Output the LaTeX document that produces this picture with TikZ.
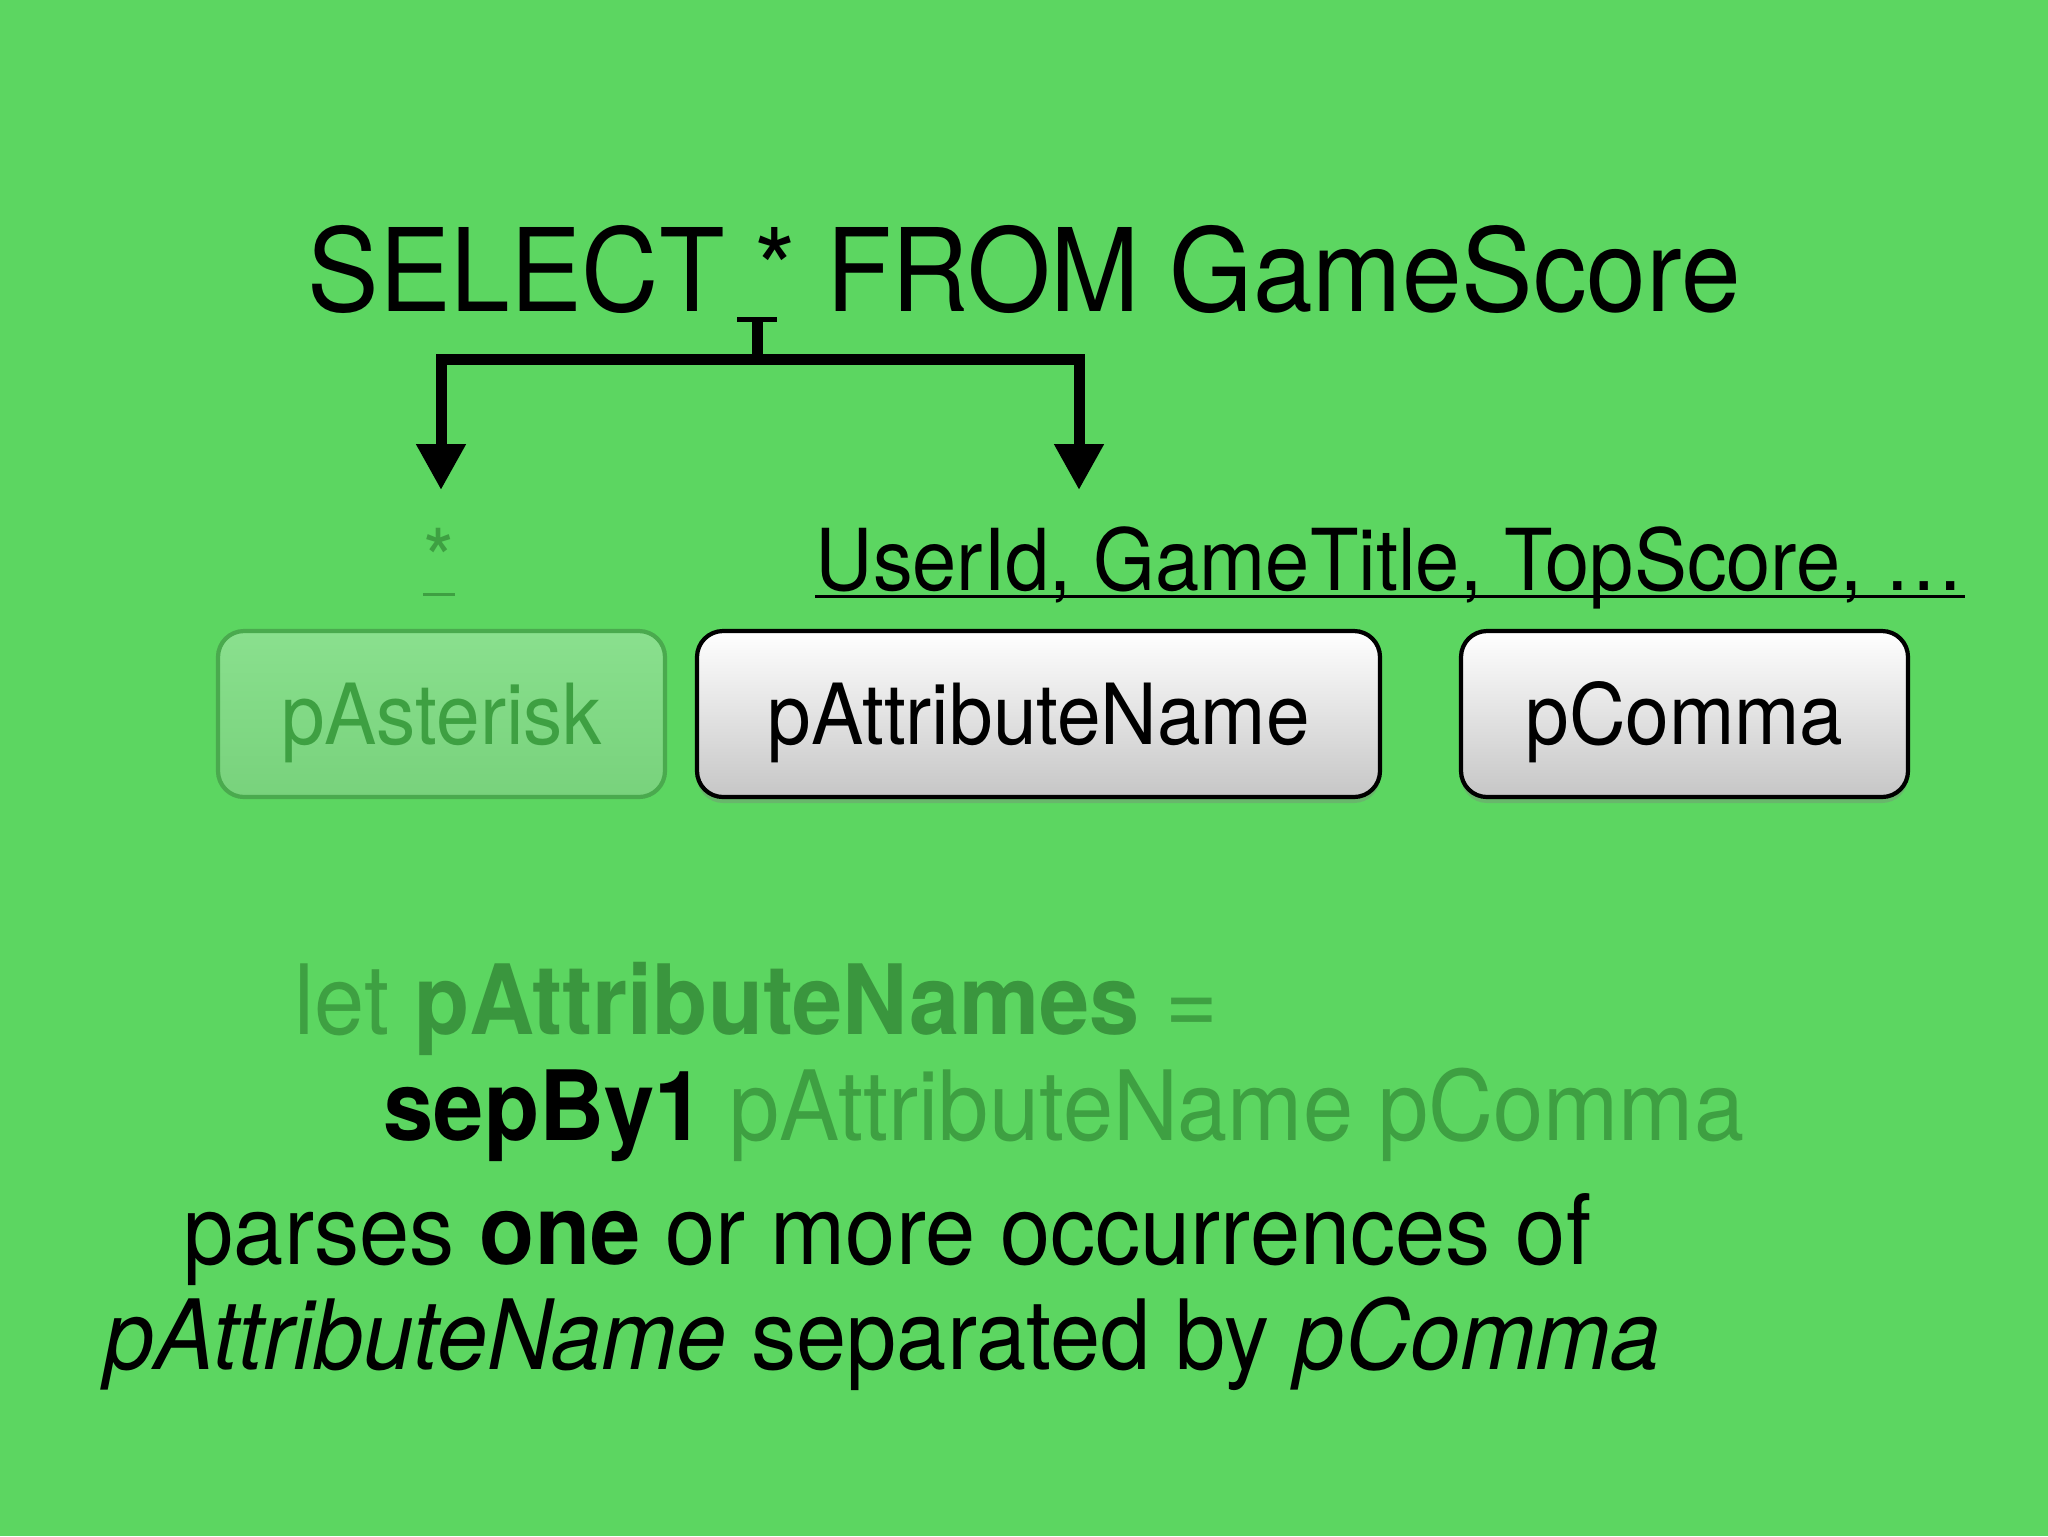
\documentclass[tikz,border=0pt]{standalone}
\usepackage{fontspec}
\setmainfont{TeX Gyre Heros}[FakeStretch=0.93]
\usetikzlibrary{arrows.meta,shadows}
\definecolor{slide}{RGB}{92,214,97}
\definecolor{faded}{RGB}{62,160,66}
\definecolor{fadedbold}{RGB}{58,150,62}
\definecolor{fadedtop}{RGB}{138,224,142}
\definecolor{fadedbot}{RGB}{120,210,124}
\definecolor{fadedrim}{RGB}{74,170,78}
\definecolor{boxgray}{RGB}{198,198,198}
\begin{document}
\begin{tikzpicture}[x=0.1mm,y=-0.1mm,
    txt/.style={inner sep=0pt,anchor=base west},
    fork/.style={line width=0.11cm,black},
    uline/.style={line width=0.03cm},
    parser/.style={draw=black,line width=1.2pt,rounded corners=0.26cm,
      minimum height=1.66cm,text height=0.6cm,text depth=0cm,
      top color=white,bottom color=boxgray,
      drop shadow={shadow xshift=0pt,shadow yshift=-0.06cm,opacity=0.35},
      font=\fontsize{24}{28}\selectfont},
    fadedbox/.style={draw=fadedrim,line width=1.2pt,rounded corners=0.26cm,
      minimum height=1.66cm,text height=0.6cm,text depth=0cm,
      top color=fadedtop,bottom color=fadedbot,
      text=faded,font=\fontsize{24}{28}\selectfont}]
  \fill[slide] (0,0) rectangle (2048,1536);
  \useasboundingbox (0,0) rectangle (2048,1536);

  % query and the two readings of the asterisk
  \node[txt,font=\fontsize{32.8}{36}\selectfont] (query) at (307,311) {SELECT * FROM GameScore};
  \node[txt,anchor=base,text=faded,font=\fontsize{24.3}{28}\selectfont] (star) at (439,590) {*};
  \node[txt,font=\fontsize{24.3}{28}\selectfont] (attrs) at (815,590) {UserId, GameTitle, TopScore, …};
  \draw[uline,faded] ([yshift=-0.04cm]star.base west) -- ([yshift=-0.04cm]star.base east);
  \draw[uline] ([yshift=-0.06cm]attrs.base west) -- ([yshift=-0.06cm]attrs.base east);

  \coordinate (stub) at (757,317);
  \coordinate (join) at (757,359);
  \coordinate (starTip) at (441,490);
  \coordinate (attrTip) at (1079,490);
  \draw[fork,{Bar[width=0.4cm,line width=0.05cm]}-] (stub) -- (join);
  \draw[fork,-{Triangle[width=0.47cm,length=0.46cm]}] (join) -| (starTip);
  \draw[fork,-{Triangle[width=0.47cm,length=0.46cm]}] (join) -| (attrTip);

  % parsers
  \node[fadedbox,minimum width=4.47cm] (pAsterisk) at (441.5,714) {pAsterisk};
  \node[parser,minimum width=6.83cm] (pAttributeName) at (1038.5,714) {pAttributeName};
  \node[parser,minimum width=4.47cm] (pComma) at (1684.5,714) {pComma};

  % code and its reading
  \begin{scope}[font=\fontsize{27.6}{32}\selectfont]
    \node[txt,text=faded] (letline) at (294,1034) {let \textcolor{fadedbold}{\textbf{pAttributeNames}} =};
    \node[txt] (sepline) at (383,1140) {\textbf{sepBy1} \textcolor{faded}{pAttributeName pComma}};
    \node[txt] (parsesline) at (183,1264) {parses \textbf{one} or more occurrences of};
    \node[txt] (descline) at (104,1369) {\textit{pAttributeName} separated by \textit{pComma}};
  \end{scope}
\end{tikzpicture}
\end{document}
